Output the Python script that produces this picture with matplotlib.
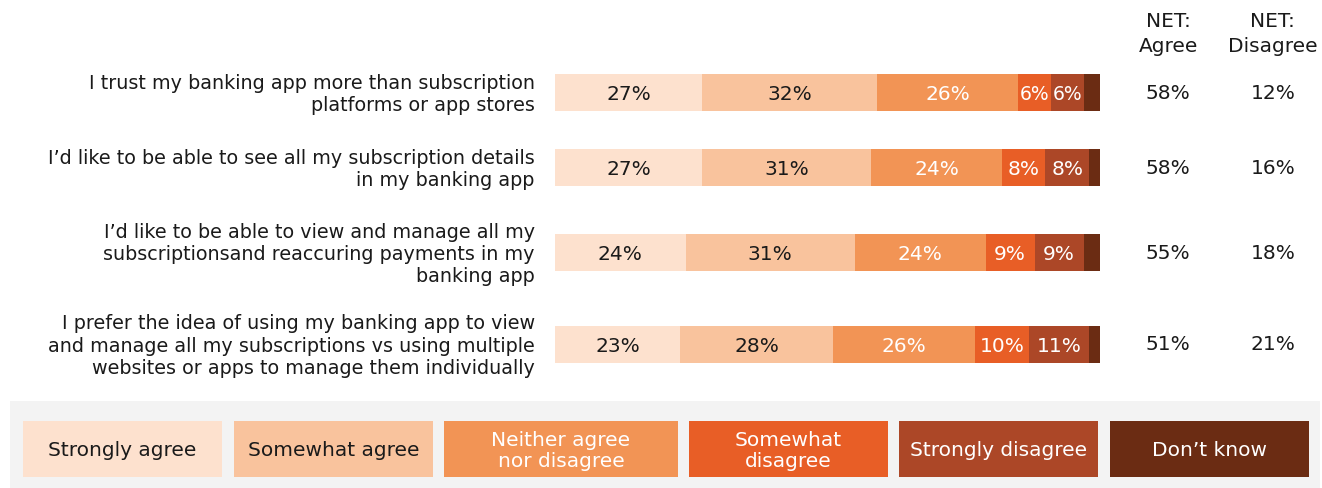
import numpy as np
import matplotlib.pyplot as plt
from matplotlib.patches import Rectangle

plt.rcParams['font.family'] = ['DejaVu Sans']

statements = [
    "I trust my banking app more than subscription\nplatforms or app stores",
    "I\u2019d like to be able to see all my subscription details\nin my banking app",
    "I\u2019d like to be able to view and manage all my\nsubscriptionsand reaccuring payments in my\nbanking app",
    "I prefer the idea of using my banking app to view\nand manage all my subscriptions vs using multiple\nwebsites or apps to manage them individually",
]
categories = ["Strongly agree", "Somewhat agree", "Neither agree\nnor disagree",
              "Somewhat\ndisagree", "Strongly disagree", "Don\u2019t know"]
strongly_agree = [27, 27, 24, 23]
somewhat_agree = [32, 31, 31, 28]
neither = [26, 24, 24, 26]
somewhat_disagree = [6, 8, 9, 10]
strongly_disagree = [6, 8, 9, 11]
dont_know = [3, 2, 3, 2]
net_agree = [58, 58, 55, 51]
net_disagree = [12, 16, 18, 21]

colors = ['#FDE1CE', '#F9C39D', '#F29455', '#E85E26', '#AC4727', '#6B2C13']
text_colors = ['#1a1a1a', '#1a1a1a', 'white', 'white', 'white', 'white']

W, H = 1322, 489
fig = plt.figure(figsize=(W / 100, H / 100), dpi=100)

# bar axes: x in percent, y in pixels from the top
ax = fig.add_axes([555 / W, 0, 545 / W, 1])
ax.set_xlim(0, 100)
ax.set_ylim(H, 0)
ax.axis('off')

row_y = [93.5, 168.5, 253.5, 345]
series = [strongly_agree, somewhat_agree, neither, somewhat_disagree,
          strongly_disagree, dont_know]
left = np.zeros(len(statements))
for k, vals in enumerate(series):
    vals = np.array(vals, dtype=float)
    ax.barh(row_y, vals, left=left, height=37, color=colors[k], linewidth=0)
    if k < 5:
        for y, l, v in zip(row_y, left, vals):
            ax.text(l + v / 2, y + 1, f"{int(v)}%", ha='center', va='center',
                    fontsize=14.5 if v > 7 else 13.5, color=text_colors[k])
    left += vals

for y, s, a, d in zip(row_y, statements, net_agree, net_disagree):
    ax.text(-3.7, y + 1, s, ha='right', va='center', fontsize=13.8,
            color='#1a1a1a', linespacing=1.22)
    ax.text(112.5, y, f"{a}%", ha='center', va='center', fontsize=14.5, color='#1a1a1a')
    ax.text(131.7, y, f"{d}%", ha='center', va='center', fontsize=14.5, color='#1a1a1a')

ax.text(112.5, 34, "NET:\nAgree", ha='center', va='center', fontsize=14.5,
        color='#1a1a1a', linespacing=1.45)
ax.text(131.7, 34, "NET:\nDisagree", ha='center', va='center', fontsize=14.5,
        color='#1a1a1a', linespacing=1.45)

# legend panel in pixel coordinates
lg = fig.add_axes([0, 0, 1, 1], zorder=-1)
lg.set_xlim(0, W)
lg.set_ylim(H, 0)
lg.axis('off')
lg.add_patch(Rectangle((10, 402), 1310, 87, color='#F3F3F3', lw=0))
box_x = [23, 234, 444, 689, 899, 1110]
box_w = [199, 199, 234, 199, 199, 199]
for k, name in enumerate(categories):
    lg.add_patch(Rectangle((box_x[k], 422), box_w[k], 56, color=colors[k], lw=0))
    lg.text(box_x[k] + box_w[k] / 2, 451, name, ha='center', va='center',
            fontsize=14.5, color=text_colors[k], linespacing=1.1)

fig.savefig('out.png', dpi=100)
